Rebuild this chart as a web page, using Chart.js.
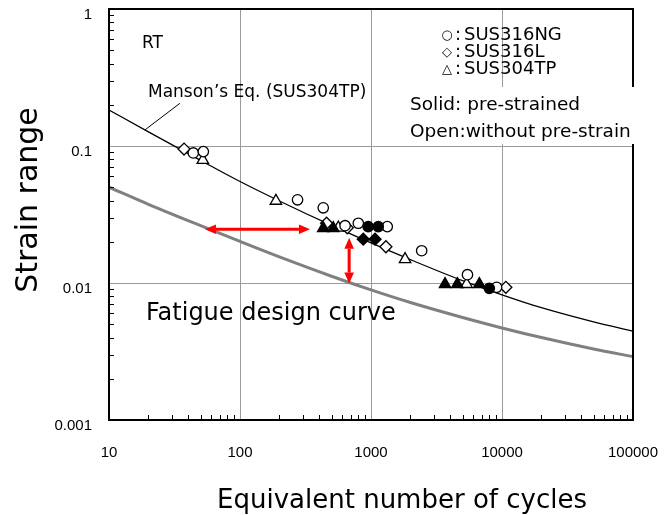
<!DOCTYPE html>
<html>
<head>
<meta charset="utf-8">
<title>Strain range vs equivalent cycles</title>
<script src="https://cdn.jsdelivr.net/npm/chart.js@4.4.1/dist/chart.umd.min.js"></script>
<style>
  html, body { margin: 0; padding: 0; background: #fff; }
  #box { width: 668px; height: 515px; }
</style>
</head>
<body>
<div id="box"><canvas id="chart" width="668" height="515"></canvas></div>
<script>
// axis decades and their labels
const cycleTicks = [10, 100, 1000, 10000, 100000];
const cycleTickLabels = ['10', '100', '1000', '10000', '100000'];
const strainTicks = [0.001, 0.01, 0.1, 1];
const strainTickLabels = ['0.001', '0.01', '0.1', '1'];

// Manson's eq. (SUS304TP) and fatigue design curve
const curveCycles = [10, 20, 50, 100, 200, 500, 1000, 2000, 5000, 10000, 20000, 50000, 100000];
const mansonStrain = [0.1832, 0.1269, 0.0786, 0.0551, 0.0397, 0.0263, 0.0196, 0.0148, 0.0104, 0.0082, 0.0066, 0.0052, 0.00445];
const designStrain = [0.0500, 0.0375, 0.0262, 0.0201, 0.0155, 0.0112, 0.0089, 0.0072, 0.0056, 0.0047, 0.0040, 0.0033, 0.0029];

// test results: open = without pre-strain, solid = pre-strained
const ngOpenCycles = [44, 52.5, 275, 432, 634, 800, 1331, 2437, 5450, 9100];
const ngOpenStrain = [0.089, 0.091, 0.0405, 0.0354, 0.0262, 0.0273, 0.0258, 0.0172, 0.0115, 0.0093];
const ngSolidCycles = [952, 1136, 8000];
const ngSolidStrain = [0.0258, 0.0258, 0.00915];
const lOpenCycles = [37.4, 458, 659, 1300, 10700];
const lOpenStrain = [0.095, 0.0273, 0.0253, 0.0184, 0.0093];
const lSolidCycles = [873, 1074];
const lSolidStrain = [0.0209, 0.0209];
const tpOpenCycles = [52, 188, 563, 1820, 5370];
const tpOpenStrain = [0.079, 0.0397, 0.0253, 0.0149, 0.0098];
const tpSolidCycles = [432, 515, 3673, 4560, 6716];
const tpSolidStrain = [0.0251, 0.0251, 0.0098, 0.0098, 0.0098];

// margin arrows and label leader, [cycles, strain]
const cycleArrow = [[54, 0.0247], [342, 0.0247]];
const strainArrow = [[681, 0.0214], [681, 0.0099]];
const mansonLeader = [[34.8, 0.205], [18.8, 0.131]];

const SANS = '"DejaVu Sans", sans-serif';

function pts(xs, ys)
{
  return xs.map((x, i) => ({x: x, y: ys[i]}));
}

// 1..9 steps inside every decade, for the small inner ticks
function decadeSteps(majors)
{
  let out = [];
  for (let i = 0; i < majors.length; i++)
  {
    out.push(majors[i]);
    if (i < majors.length - 1)
    {
      for (let m = 2; m <= 9; m++)
      {
        out.push(+(majors[i] * m).toPrecision(4));
      }
    }
  }
  return out;
}

function marks(label, xs, ys, style, r, solid, order)
{
  return {
    label: label,
    data: pts(xs, ys),
    pointStyle: style,
    pointRadius: r,
    pointBorderWidth: 1.3,
    pointBackgroundColor: solid ? '#000' : '#fff',
    pointBorderColor: '#000',
    showLine: false,
    order: order
  };
}

function curve(label, ys, color, width)
{
  return {
    label: label,
    data: pts(curveCycles, ys),
    showLine: true,
    borderColor: color,
    borderWidth: width,
    pointRadius: 0,
    cubicInterpolationMode: 'monotone',
    order: 5
  };
}

// no label padding around the plot box, the frame is fixed
function noPad(s)
{
  s.paddingTop = 0;
  s.paddingBottom = 0;
  s.paddingLeft = 0;
  s.paddingRight = 0;
}

function arrow(ctx, sx, sy, seg)
{
  const x0 = sx.getPixelForValue(seg[0][0]), y0 = sy.getPixelForValue(seg[0][1]);
  const x1 = sx.getPixelForValue(seg[1][0]), y1 = sy.getPixelForValue(seg[1][1]);
  const a = Math.atan2(y1 - y0, x1 - x0);
  const head = 11, half = 4.8;
  ctx.strokeStyle = '#ff0000';
  ctx.fillStyle = '#ff0000';
  ctx.lineWidth = 3;
  ctx.beginPath();
  ctx.moveTo(x0 + Math.cos(a) * head, y0 + Math.sin(a) * head);
  ctx.lineTo(x1 - Math.cos(a) * head, y1 - Math.sin(a) * head);
  ctx.stroke();
  [[x0, y0, a + Math.PI], [x1, y1, a]].forEach(([px, py, d]) =>
  {
    const bx = px - Math.cos(d) * head, by = py - Math.sin(d) * head;
    ctx.beginPath();
    ctx.moveTo(px, py);
    ctx.lineTo(bx + Math.sin(d) * half, by - Math.cos(d) * half);
    ctx.lineTo(bx - Math.sin(d) * half, by + Math.cos(d) * half);
    ctx.closePath();
    ctx.fill();
  });
}

function text(ctx, str, x, y, size, align)
{
  ctx.font = size + 'px ' + SANS;
  ctx.textAlign = align || 'left';
  ctx.textBaseline = 'alphabetic';
  ctx.fillText(str, x, y);
}

// frame, inner ticks, arrows and the notes on the plot
const decor = {
  id: 'decor',
  afterDatasetsDraw(chart)
  {
    const {ctx, chartArea: a, scales: {x, y}} = chart;
    ctx.save();

    ctx.strokeStyle = '#000';
    ctx.lineWidth = 1;
    ctx.beginPath();
    x.ticks.forEach((t) =>
    {
      if (!cycleTicks.includes(t.value))
      {
        const px = Math.round(x.getPixelForValue(t.value)) + 0.5;
        ctx.moveTo(px, a.bottom);
        ctx.lineTo(px, a.bottom - 5);
      }
    });
    y.ticks.forEach((t) =>
    {
      if (!strainTicks.includes(t.value))
      {
        const py = Math.round(y.getPixelForValue(t.value)) + 0.5;
        ctx.moveTo(a.left, py);
        ctx.lineTo(a.left + 5, py);
      }
    });
    ctx.moveTo(x.getPixelForValue(mansonLeader[0][0]), y.getPixelForValue(mansonLeader[0][1]));
    ctx.lineTo(x.getPixelForValue(mansonLeader[1][0]), y.getPixelForValue(mansonLeader[1][1]));
    ctx.stroke();

    ctx.lineWidth = 2;
    ctx.strokeRect(a.left, a.top, a.right - a.left, a.bottom - a.top);

    arrow(ctx, x, y, cycleArrow);
    arrow(ctx, x, y, strainArrow);

    // key box sits over the right border
    ctx.fillStyle = '#fff';
    ctx.fillRect(405, 87, 236, 57);

    ctx.fillStyle = '#000';
    text(ctx, 'RT', 142, 48, 17);
    text(ctx, 'Manson\u2019s Eq. (SUS304TP)', 148, 97, 17);
    text(ctx, 'Fatigue design curve', 146, 320, 24);

    const keys = [['\u25CB', 'SUS316NG'], ['\u25C7', 'SUS316L'], ['\u25B3', 'SUS304TP']];
    keys.forEach((k, i) =>
    {
      const base = 39.5 + i * 17;
      text(ctx, k[0], 447, base - 0.5, 13, 'center');
      text(ctx, ':', 455, base, 18);
      text(ctx, k[1], 464, base, 18);
    });
    text(ctx, 'Solid: pre-strained', 410, 110, 18.5);
    text(ctx, 'Open:without pre-strain', 410, 136.5, 18.5);

    // axis titles
    text(ctx, 'Equivalent number of cycles', 402, 508, 26, 'center');
    ctx.translate(37, 200);
    ctx.rotate(-Math.PI / 2);
    text(ctx, 'Strain range', 0, 0, 30, 'center');

    ctx.restore();
  }
};

const tickFont = {family: '"Liberation Sans", Arial, sans-serif', size: 15};

new Chart(document.getElementById('chart'),
{
  type: 'scatter',
  data: {
    datasets: [
      curve('Manson', mansonStrain, '#000', 1.3),
      curve('Design', designStrain, '#808080', 3),
      marks('SUS316NG open', ngOpenCycles, ngOpenStrain, 'circle', 5.2, false, 3),
      marks('SUS316L open', lOpenCycles, lOpenStrain, 'rectRot', 6, false, 3),
      marks('SUS304TP open', tpOpenCycles, tpOpenStrain, 'triangle', 6.6, false, 3),
      marks('SUS316NG solid', ngSolidCycles, ngSolidStrain, 'circle', 5.2, true, 1),
      marks('SUS316L solid', lSolidCycles, lSolidStrain, 'rectRot', 6, true, 1),
      marks('SUS304TP solid', tpSolidCycles, tpSolidStrain, 'triangle', 6.6, true, 1)
    ]
  },
  options: {
    responsive: false,
    animation: false,
    devicePixelRatio: 1,
    layout: {padding: {top: 9, right: 35, left: 0, bottom: 0}},
    plugins: {legend: {display: false}, tooltip: {enabled: false}},
    scales: {
      x: {
        type: 'logarithmic',
        position: 'bottom',
        min: 10,
        max: 100000,
        afterBuildTicks: (s) => { s.ticks = decadeSteps(cycleTicks).map((v) => ({value: v})); },
        afterFit: (s) => { s.height = 95; noPad(s); },
        grid: {color: (c) => (c.tick && cycleTicks.includes(c.tick.value)) ? '#9a9a9a' : 'rgba(0,0,0,0)', lineWidth: 1, drawTicks: false},
        border: {display: false},
        ticks: {
          autoSkip: false,
          maxRotation: 0,
          padding: 24,
          color: '#000',
          font: tickFont,
          callback: (v) => { const i = cycleTicks.indexOf(v); return i < 0 ? '' : cycleTickLabels[i]; }
        }
      },
      y: {
        type: 'logarithmic',
        min: 0.001,
        max: 1,
        afterBuildTicks: (s) => { s.ticks = decadeSteps(strainTicks).map((v) => ({value: v})); },
        afterFit: (s) => { s.width = 109; noPad(s); },
        grid: {color: (c) => (c.tick && strainTicks.includes(c.tick.value)) ? '#9a9a9a' : 'rgba(0,0,0,0)', lineWidth: 1, drawTicks: false},
        border: {display: false},
        ticks: {
          autoSkip: false,
          padding: 17,
          labelOffset: 6,
          color: '#000',
          font: tickFont,
          callback: (v) => { const i = strainTicks.indexOf(v); return i < 0 ? '' : strainTickLabels[i]; }
        }
      }
    }
  },
  plugins: [decor]
});
</script>
</body>
</html>
